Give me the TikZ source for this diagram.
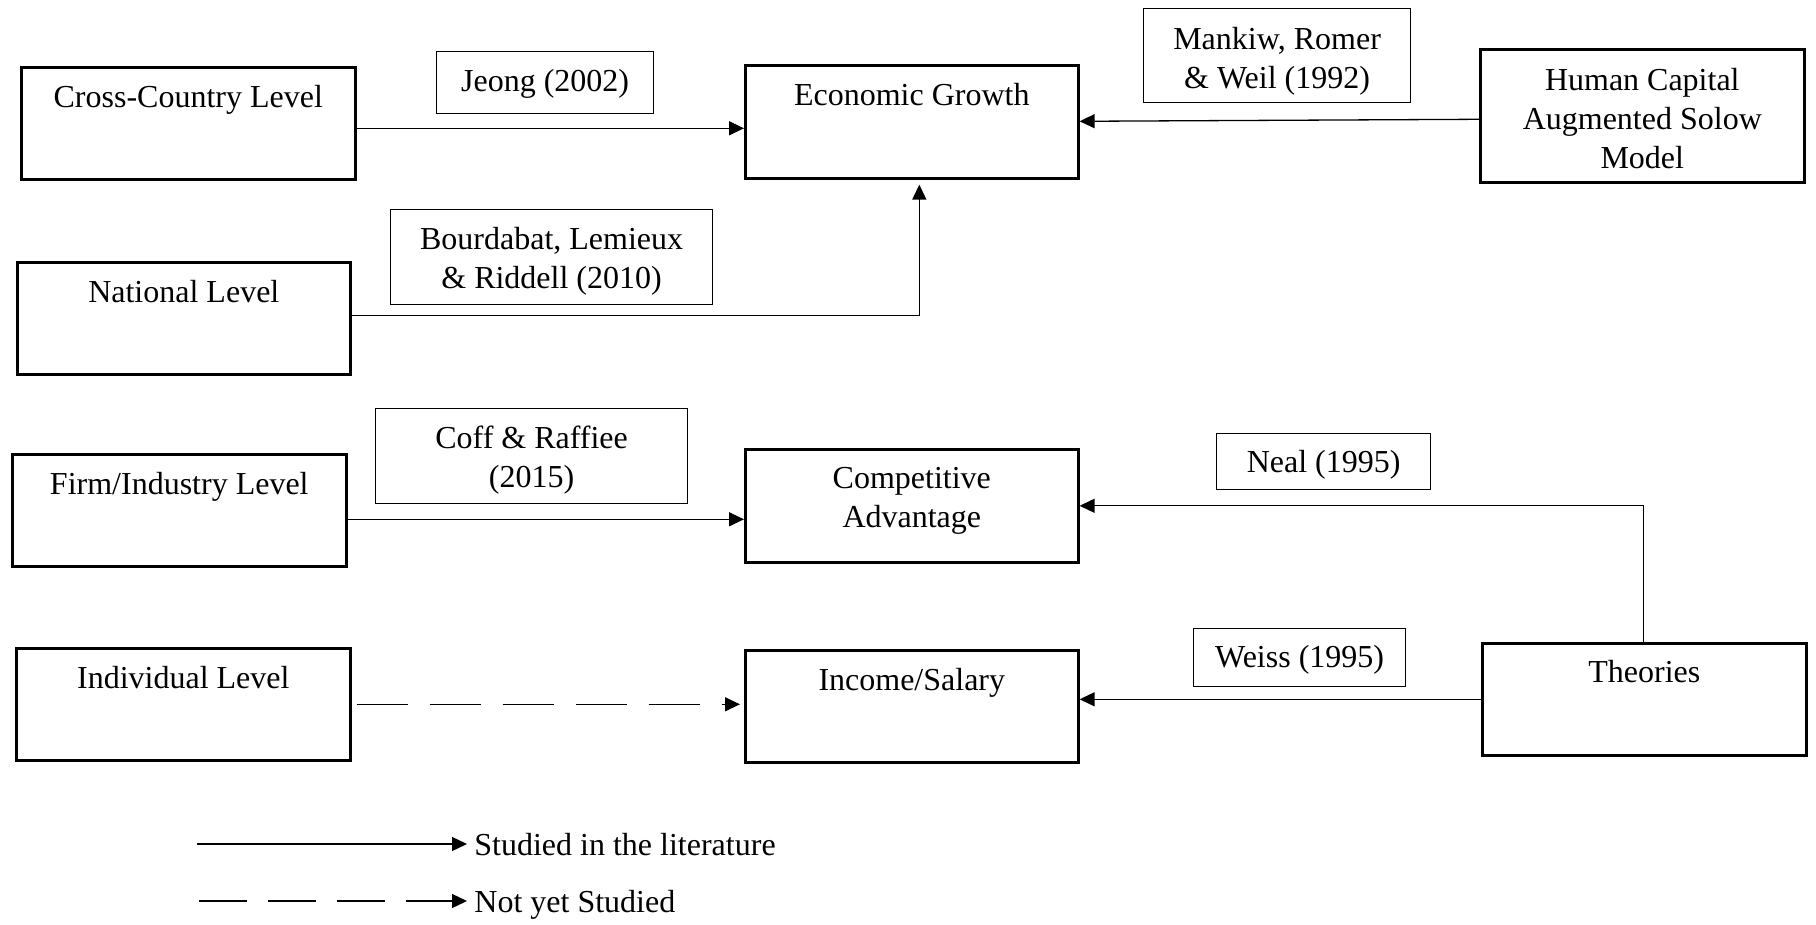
\documentclass[tikz,border=0pt]{standalone}
\usepackage{fontspec}
\setmainfont{Liberation Serif}
\usetikzlibrary{arrows.meta,calc}
\begin{document}
\begin{tikzpicture}[x=0.5pt,y=-0.5pt,
  mainbox/.style={draw, line width=1.3pt, anchor=north west, inner sep=0pt},
  refbox/.style={draw, line width=0.6pt, anchor=north west, inner sep=0pt},
  txt/.style={anchor=north, inner sep=0pt, align=center, font=\fontsize{16}{19.5}\selectfont, execute at begin node=\strut},
  legtxt/.style={anchor=base west, inner sep=0pt, font=\fontsize{16}{19.5}\selectfont},
  arr/.style={line width=0.65pt, -{Triangle[length=7.5pt,width=7pt]}},
  dsh/.style={dash pattern=on 25.5pt off 11pt},
  ldsh/.style={dash pattern=on 24pt off 10.5pt}]
\useasboundingbox (0,0) rectangle (1816,925);

% main boxes
\node (cc)   [mainbox, minimum width=167pt,   minimum height=56pt]   at (20,66) {};
\node (nat)  [mainbox, minimum width=166.5pt, minimum height=56pt]   at (16,261) {};
\node (firm) [mainbox, minimum width=167pt,   minimum height=56pt]   at (11,453) {};
\node (ind)  [mainbox, minimum width=167pt,   minimum height=56pt]   at (15,647) {};
\node (eg)   [mainbox, minimum width=166.5pt, minimum height=56.5pt] at (744,64) {};
\node (ca)   [mainbox, minimum width=166.5pt, minimum height=56.5pt] at (744,448) {};
\node (inc)  [mainbox, minimum width=166.5pt, minimum height=56pt]   at (744,649) {};
\node (hc)   [mainbox, minimum width=162pt,   minimum height=66.5pt] at (1479,48) {};
\node (th)   [mainbox, minimum width=162pt,   minimum height=56pt]   at (1481,642) {};

% reference boxes
\node (jeong) [refbox, minimum width=108.5pt, minimum height=31pt]   at (436,51) {};
\node (bour)  [refbox, minimum width=161pt,   minimum height=47.5pt] at (390,209) {};
\node (mank)  [refbox, minimum width=133.5pt, minimum height=47pt]   at (1143,8) {};
\node (coff)  [refbox, minimum width=156pt,   minimum height=47.5pt] at (375,408) {};
\node (neal)  [refbox, minimum width=107pt,   minimum height=28pt]   at (1216,433) {};
\node (weiss) [refbox, minimum width=106pt,   minimum height=29pt]   at (1193,628) {};

% texts
\node (cct)   [txt] at ([yshift=-6.9pt]cc.north) {Cross-Country Level};
\node (natt)  [txt] at ([yshift=-6.9pt]nat.north) {National Level};
\node (firmt) [txt] at ([yshift=-6.9pt]firm.north) {Firm/Industry Level};
\node (indt)  [txt] at ([yshift=-6.9pt]ind.north) {Individual Level};
\node (egt)   [txt] at ([yshift=-6.9pt]eg.north) {Economic Growth};
\node (cat)   [txt] at ([yshift=-9.45pt]ca.north) {Competitive\\Advantage};
\node (inct)  [txt] at ([yshift=-6.9pt]inc.north) {Income/Salary};
\node (hct)   [txt] at ([yshift=-10pt]hc.north) {Human Capital\\Augmented Solow\\Model};
\node (tht)   [txt] at ([yshift=-6.4pt]th.north) {Theories};
\node (jeongt) [txt] at ([yshift=-6.4pt]jeong.north) {Jeong (2002)};
\node (bourt)  [txt] at ([yshift=-8.95pt]bour.north) {Bourdabat, Lemieux\\\& Riddell (2010)};
\node (mankt)  [txt] at ([yshift=-9.45pt]mank.north) {Mankiw, Romer\\\& Weil (1992)};
\node (cofft)  [txt] at ([yshift=-8.95pt]coff.north) {Coff \& Raffiee\\(2015)};
\node (nealt)  [txt] at ([yshift=-6pt]neal.north) {Neal (1995)};
\node (weisst) [txt] at ([yshift=-6pt]weiss.north) {Weiss (1995)};

% connectors
\draw[arr] ([yshift=-2.5pt]cc.east) -- ([yshift=-3.25pt]eg.west);
\draw[arr, shorten >=2.5pt] ([yshift=1.5pt]nat.east) -| ([xshift=3.75pt]eg.south);
\draw[arr] ([yshift=-1.75pt]hc.west) -- ([yshift=0.25pt]eg.east);
\draw[arr] ([yshift=-4.5pt]firm.east) -- ([yshift=-6.75pt]ca.west);
\draw[arr] ([xshift=-0.5pt]th.north) |- (ca.east);
\draw[arr] (th.west) -- ([yshift=3.5pt]inc.east);
\draw[arr, dsh, shorten <=2.5pt, shorten >=2pt] (ind.east) -- ([yshift=1pt]inc.west);

% legend
\node (leg1) [legtxt] at (474,855) {Studied in the literature};
\node (leg2) [legtxt] at (474,912) {Not yet Studied};
\coordinate (l1) at (197,844);
\coordinate (l2) at (199,901);
\draw[arr, shorten >=3.5pt] (l1) -- (l1 -| leg1.west);
\draw[arr, ldsh, shorten >=3.5pt] (l2) -- (l2 -| leg2.west);
\end{tikzpicture}
\end{document}
